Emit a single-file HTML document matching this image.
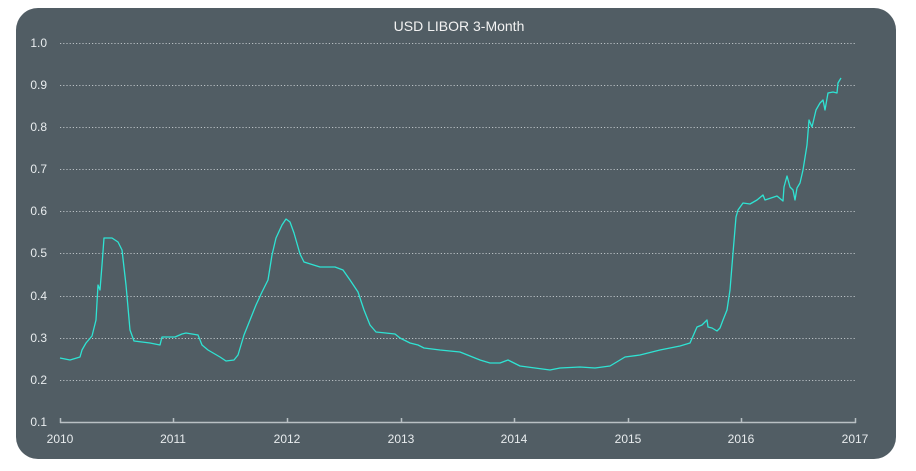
<!DOCTYPE html>
<html><head><style>
html,body{margin:0;padding:0;background:#fff;}
svg{display:block;}
</style></head><body>
<svg width="916" height="471" xmlns="http://www.w3.org/2000/svg" font-family="Liberation Sans, sans-serif">
<rect x="16" y="8" width="880" height="451" rx="22" ry="22" fill="#515d64"/>
<text x="459" y="31" fill="#f2f2f2" font-size="14" text-anchor="middle">USD LIBOR 3-Month</text>
<g stroke="#b9c0c4" stroke-width="1" stroke-dasharray="1.2,2" fill="none">
<line x1="60" y1="43.5" x2="856" y2="43.5"/>
<line x1="60" y1="85.5" x2="856" y2="85.5"/>
<line x1="60" y1="127.5" x2="856" y2="127.5"/>
<line x1="60" y1="169.5" x2="856" y2="169.5"/>
<line x1="60" y1="211.5" x2="856" y2="211.5"/>
<line x1="60" y1="253.5" x2="856" y2="253.5"/>
<line x1="60" y1="296.5" x2="856" y2="296.5"/>
<line x1="60" y1="338.5" x2="856" y2="338.5"/>
<line x1="60" y1="380.5" x2="856" y2="380.5"/>
</g>
<g fill="#e8ecee" font-size="12" text-anchor="end">
<text x="47" y="47">1.0</text><text x="47" y="89">0.9</text><text x="47" y="131">0.8</text>
<text x="47" y="173">0.7</text><text x="47" y="215">0.6</text><text x="47" y="257">0.5</text>
<text x="47" y="300">0.4</text><text x="47" y="342">0.3</text><text x="47" y="384">0.2</text>
<text x="47" y="426">0.1</text>
</g>
<g stroke="#b9c0c4" stroke-width="1.5" fill="none">
<line x1="60" y1="422.5" x2="856" y2="422.5"/>
<line x1="60.5" y1="418" x2="60.5" y2="423"/><line x1="173.5" y1="418" x2="173.5" y2="423"/>
<line x1="287.5" y1="418" x2="287.5" y2="423"/><line x1="401.5" y1="418" x2="401.5" y2="423"/>
<line x1="514.5" y1="418" x2="514.5" y2="423"/><line x1="628.5" y1="418" x2="628.5" y2="423"/>
<line x1="741.5" y1="418" x2="741.5" y2="423"/><line x1="855.5" y1="418" x2="855.5" y2="423"/>
</g>
<g fill="#e8ecee" font-size="12" text-anchor="middle">
<text x="60" y="443">2010</text><text x="173" y="443">2011</text><text x="287" y="443">2012</text>
<text x="401" y="443">2013</text><text x="514" y="443">2014</text><text x="628" y="443">2015</text>
<text x="741" y="443">2016</text><text x="855" y="443">2017</text>
</g>
<polyline fill="none" stroke="#2fe3d3" stroke-width="1.3" stroke-linejoin="round" points="
60,358 70,360 80,357 82,350 86,343 92,336 96,320 98,285 100,290 102,265 104,238 112,238 118,242 122,250 126,285 130,330 134,341 150,343 160,345 162,337 175,337 182,334 186,333 198,335 202,345 208,350 220,357 226,361 234,360 238,355 244,335 250,320 256,305 262,292 268,280 272,255 276,238 282,225 286,219 290,222 294,233 300,254 304,262 320,267 335,267 343,270 350,280 358,292 364,310 370,325 376,332 395,334 400,338 410,343 418,345 424,348 440,350 460,352 470,356 480,360 490,363 500,363 508,360 512,362 520,366 535,368 550,370 560,368 580,367 595,368 610,366 620,360 625,357 640,355 660,350 680,346 690,343 697,327 702,325 707,320 708,327 712,328 717,331 720,328 723,320 727,310 730,290 733,253 736,217 738,210 743,203 750,204 757,200 763,195 765,200 771,198 777,196 783,201 784,187 787,176 790,187 793,190 795,200 797,188 800,183 803,170 807,145 809,120 812,127 816,110 820,103 823,100 825,110 828,93 833,92 837,93 838,83 841,78"/>
</svg>
</body></html>
